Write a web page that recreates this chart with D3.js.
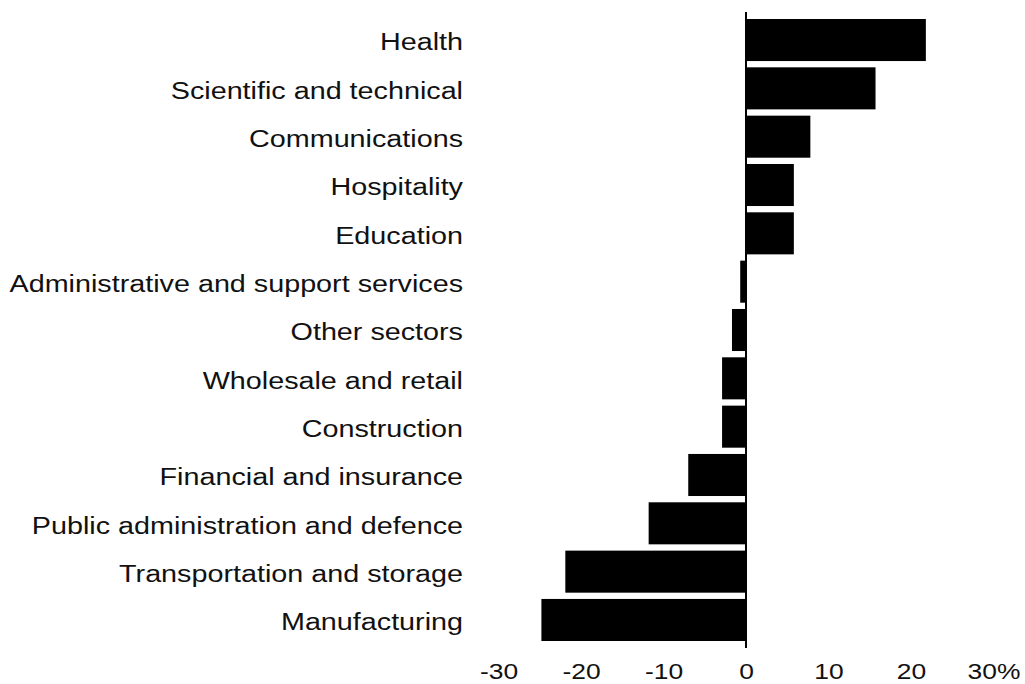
<!DOCTYPE html>
<html>
<head>
<meta charset="utf-8">
<script src="https://cdn.jsdelivr.net/npm/d3@7"></script>
<style>
  html, body { margin: 0; padding: 0; background: #fff; }
  svg { display: block; }
  text { font-family: "Liberation Sans", Arial, Helvetica, sans-serif; fill: #111; }
</style>
</head>
<body>
<svg id="chart" width="1025" height="684"></svg>
<script>
const categories = [
  "Health",
  "Scientific and technical",
  "Communications",
  "Hospitality",
  "Education",
  "Administrative and support services",
  "Other sectors",
  "Wholesale and retail",
  "Construction",
  "Financial and insurance",
  "Public administration and defence",
  "Transportation and storage",
  "Manufacturing"
];
const values = [21.8, 15.7, 7.8, 5.8, 5.8, -0.7, -1.7, -2.9, -2.9, -7.0, -11.8, -21.9, -24.8];
const tickValues = [-30, -20, -10, 0, 10, 20, 30];
const tickLabels = ["-30", "-20", "-10", "0", "10", "20", "30%"];

const svg = d3.select("#chart");
const x = d3.scaleLinear().domain([-30, 30]).range([498.5, 993.5]);
const y = d3.scaleBand().domain(categories).range([19, 641]).paddingInner(0.13).paddingOuter(0);

const data = categories.map((c, i) => ({ c, v: values[i] }));

// bars
svg.append("g").selectAll("rect").data(data).join("rect")
  .attr("x", d => Math.min(x(0), x(d.v)))
  .attr("y", d => y(d.c))
  .attr("width", d => Math.abs(x(d.v) - x(0)))
  .attr("height", y.bandwidth())
  .attr("fill", "#000");

// zero line
svg.append("line")
  .attr("x1", x(0)).attr("x2", x(0))
  .attr("y1", 12).attr("y2", 648)
  .attr("stroke", "#000").attr("stroke-width", 2);

// category labels
const yAxis = svg.append("g")
  .attr("transform", "translate(463,0)")
  .call(d3.axisLeft(y).tickSize(0).tickPadding(0));
yAxis.select(".domain").remove();
yAxis.selectAll("text")
  .attr("x", 0)
  .attr("dy", "0.45em")
  .attr("text-anchor", "end")
  .style("font-size", "23px")
  .attr("transform", "scale(1.25,1)");

// x-axis labels
const xAxis = svg.append("g")
  .attr("transform", "translate(0,679)")
  .call(d3.axisBottom(x).tickValues(tickValues).tickSize(0)
        .tickFormat((d, i) => tickLabels[i]));
xAxis.select(".domain").remove();
xAxis.selectAll("text")
  .attr("y", 0)
  .attr("dy", 0)
  .attr("text-anchor", "middle")
  .style("font-size", "22px")
  .attr("transform", "scale(1.2,1)");
</script>
</body>
</html>
